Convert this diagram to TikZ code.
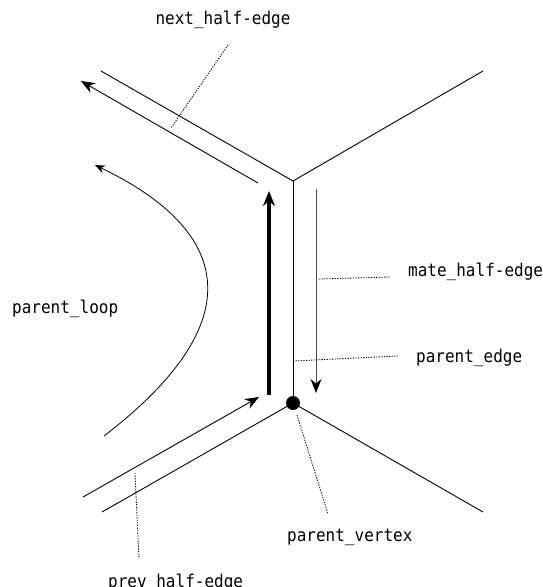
\documentclass[tikz,border=0pt]{standalone}
\usepackage{fontspec}
\usepackage{graphicx}
\setmonofont{DejaVu Sans Mono}
\usetikzlibrary{arrows.meta}
\newcommand{\tallt}[1]{\scalebox{1}[1.1]{#1}}
\begin{document}
\begin{tikzpicture}[x=1pt,y=-1pt,
  edgeline/.style={line width=0.9pt},
  halfedge/.style={line width=0.9pt,-{Stealth[length=14pt,width=11pt]}},
  leader/.style={line width=0.8pt,dash pattern=on 1.3pt off 1.3pt},
  lbl/.style={font=\ttfamily\fontsize{16}{16}\selectfont,inner sep=0pt}]
\useasboundingbox (0,0) rectangle (543,587);
% vertices and edge ends
\coordinate (tv) at (293,181);
\coordinate (tl) at (101,71);
\coordinate (tr) at (483,71);
\coordinate (bl) at (102,512);
\coordinate (br) at (483,512);
\node[circle,fill=black,minimum size=14pt,inner sep=0pt] (bv) at (293,403) {};
% edges
\draw[edgeline] (tl) -- (tv) -- (tr);
\draw[edgeline] (tv) -- (bv.center);
\draw[edgeline] (bl) -- (bv.center) -- (br);
% half-edges
\coordinate (nA) at (258,183); \coordinate (nB) at (81,81);
\draw[halfedge] (nA) -- (nB);
\coordinate (pA) at (83,497); \coordinate (pB) at (259,397);
\draw[halfedge] (pA) -- (pB);
\coordinate (thA) at (269,395); \coordinate (thB) at (269,191);
\draw[line width=3.5pt,-{Stealth[length=15pt,width=12pt]}] (thA) -- (thB);
\coordinate (mA) at (316,189); \coordinate (mB) at (316,393);
\draw[line width=0.9pt,draw=black!70,-{Stealth[length=14pt,width=11pt,black]}] (mA) -- (mB);
% parent loop
\coordinate (lA) at (104,436); \coordinate (lB) at (95,165);
\draw[line width=0.8pt,-{Stealth[length=10pt,width=8pt]}] (lA) .. controls (255,320) and (230,230) .. (lB);
% labels
\node[lbl,anchor=center] (tnext) at (223,20) {\tallt{next\_half-edge}};
\node[lbl,anchor=west] (tmate) at (408,272) {\tallt{mate\_half-edge}};
\node[lbl,anchor=west] (tedge) at (416,358) {\tallt{parent\_edge}};
\node[lbl,anchor=west] (tvert) at (287,537) {\tallt{parent\_vertex}};
\node[lbl,anchor=base west] (tprev) at (108,587) {\tallt{prev\_half-edge}};
\node[lbl,anchor=west] (tloop) at (12,309) {\tallt{parent\_loop}};
% leaders
\coordinate (d1a) at (228,45); \coordinate (d1b) at (171,128);
\draw[leader] (d1a) -- (d1b);
\coordinate (d2a) at (319,279); \coordinate (d2b) at (390,277);
\draw[leader] (d2a) -- (d2b);
\coordinate (d3a) at (293,361); \coordinate (d3b) at (398,356);
\draw[leader] (d3a) -- (d3b);
\coordinate (d4a) at (297,415); \coordinate (d4b) at (328,514);
\draw[leader] (d4a) -- (d4b);
\coordinate (d5a) at (135,473); \coordinate (d5b) at (139,559);
\draw[leader] (d5a) -- (d5b);
\end{tikzpicture}
\end{document}
